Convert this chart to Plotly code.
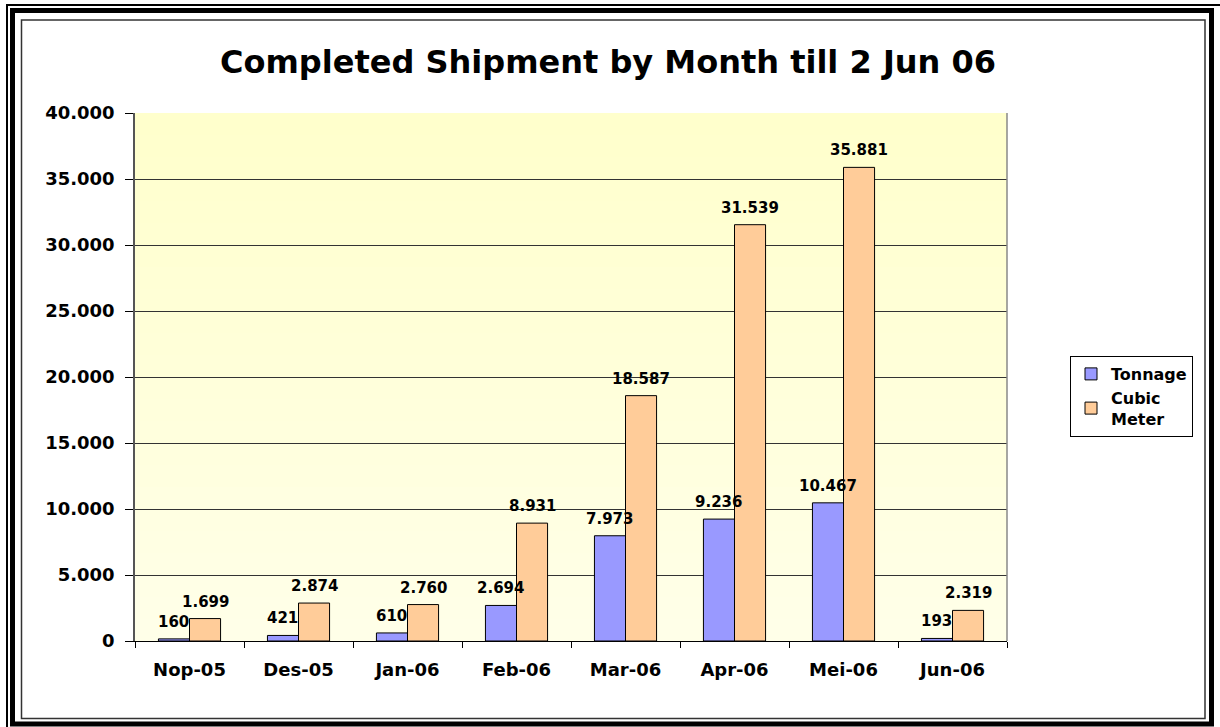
import plotly.graph_objects as go

W, H = 1220, 727

months = ["Nop-05", "Des-05", "Jan-06", "Feb-06", "Mar-06", "Apr-06", "Mei-06", "Jun-06"]
tonnage = [160, 421, 610, 2694, 7973, 9236, 10467, 193]
cubic_meter = [1699, 2874, 2760, 8931, 18587, 31539, 35881, 2319]
series_names = ["Tonnage", "Cubic<br>Meter"]
title_text = "Completed Shipment by Month till 2 Jun 06"

FONT = "DejaVu Sans"

PLOT_L, PLOT_R, PLOT_T, PLOT_B = 135, 1007, 113, 641
BARGAP = 0.43


def px(x):
    return x / W


def py(y):
    return 1 - y / H


def fmt(v):
    return f"{v:,}".replace(",", ".")


fig = go.Figure()
for vals, name, color in [(tonnage, series_names[0], "#9999FF"),
                          (cubic_meter, series_names[1], "#FFCC99")]:
    fig.add_trace(go.Bar(
        x=months, y=vals, name=name,
        marker=dict(color=color, line=dict(color="#000000", width=1)),
        cliponaxis=False,
    ))

# data labels drawn as annotations so they sit above all bars (as in the original)
cat_w = (PLOT_R - PLOT_L) / len(months)
bar_w = cat_w * (1 - BARGAP) / 2
for sign, vals in [(-1, tonnage), (1, cubic_meter)]:
    for m, v in zip(months, vals):
        fig.add_annotation(x=m, y=v, xref="x", yref="y", text=fmt(v), showarrow=False,
                           xanchor="center", yanchor="bottom",
                           xshift=sign * bar_w / 2, yshift=6,
                           font=dict(family=FONT, size=15, color="black", weight="bold"))

shapes = []
# gradient background of plot area
n = 24
top = (255, 255, 204)
bot = (255, 255, 232)
for i in range(n):
    t = i / (n - 1)
    c = tuple(round(top[k] + (bot[k] - top[k]) * t) for k in range(3))
    shapes.append(dict(type="rect", xref="x domain", yref="y domain",
                       x0=0, x1=1, y0=1 - (i + 1) / n, y1=1 - i / n,
                       fillcolor="rgb(%d,%d,%d)" % c, line=dict(width=0), layer="below"))

# outer frame
shapes.append(dict(type="line", xref="paper", yref="paper", x0=px(7), x1=px(7), y0=py(4), y1=py(727),
                   line=dict(color="black", width=2)))
shapes.append(dict(type="line", xref="paper", yref="paper", x0=px(6), x1=px(1220), y0=py(5), y1=py(5),
                   line=dict(color="black", width=2)))
shapes.append(dict(type="rect", xref="paper", yref="paper", x0=px(12.5), x1=px(1211.5), y0=py(10.5), y1=py(724),
                   line=dict(color="black", width=5), layer="above"))
shapes.append(dict(type="rect", xref="paper", yref="paper", x0=px(21.5), x1=px(1205), y0=py(20), y1=py(718.5),
                   line=dict(color="#333333", width=1.5), layer="above"))

fig.update_layout(
    width=W, height=H,
    margin=dict(l=0, r=0, t=0, b=0, autoexpand=False),
    paper_bgcolor="white",
    plot_bgcolor="#FFFFDD",
    barmode="group", bargap=BARGAP, bargroupgap=0,
    font=dict(family=FONT, color="black"),
    title=dict(text=title_text, x=px(608), xanchor="center", y=py(62), yanchor="middle",
               font=dict(family=FONT, size=32, color="black", weight="bold")),
    shapes=shapes,
    legend=dict(x=px(1070), y=py(356), xanchor="left", yanchor="top",
                bgcolor="white", bordercolor="black", borderwidth=1,
                font=dict(family=FONT, size=16, color="black", weight="bold"),
                tracegroupgap=10, itemwidth=30),
    separators=",.",
    xaxis=dict(domain=[px(PLOT_L), px(PLOT_R)], type="category", automargin=False,
               showline=True, linecolor="#000000", linewidth=1, mirror=False,
               ticks="outside", tickson="boundaries", ticklen=6, tickcolor="#000000",
               ticklabelstandoff=12,
               tickfont=dict(family=FONT, size=18, color="black", weight="bold"),
               showgrid=False),
    yaxis=dict(domain=[py(PLOT_B), py(PLOT_T)], range=[0, 40000], dtick=5000, tickformat=",",
               automargin=False,
               showline=True, linecolor="#555555", linewidth=1.5, mirror=False,
               ticks="outside", ticklen=8, tickcolor="#000000",
               ticklabelstandoff=7,
               tickfont=dict(family=FONT, size=18, color="black", weight="bold"),
               showgrid=True, gridcolor="#333333", gridwidth=1, zeroline=False),
)

# right border of plot area
fig.add_shape(type="line", xref="x domain", yref="y domain", x0=1, x1=1, y0=0, y1=1,
              line=dict(color="#888888", width=1.5))

fig.write_html("out.html", config={"displayModeBar": False},
               post_script="document.body.style.margin='0';document.body.style.overflow='hidden';")
